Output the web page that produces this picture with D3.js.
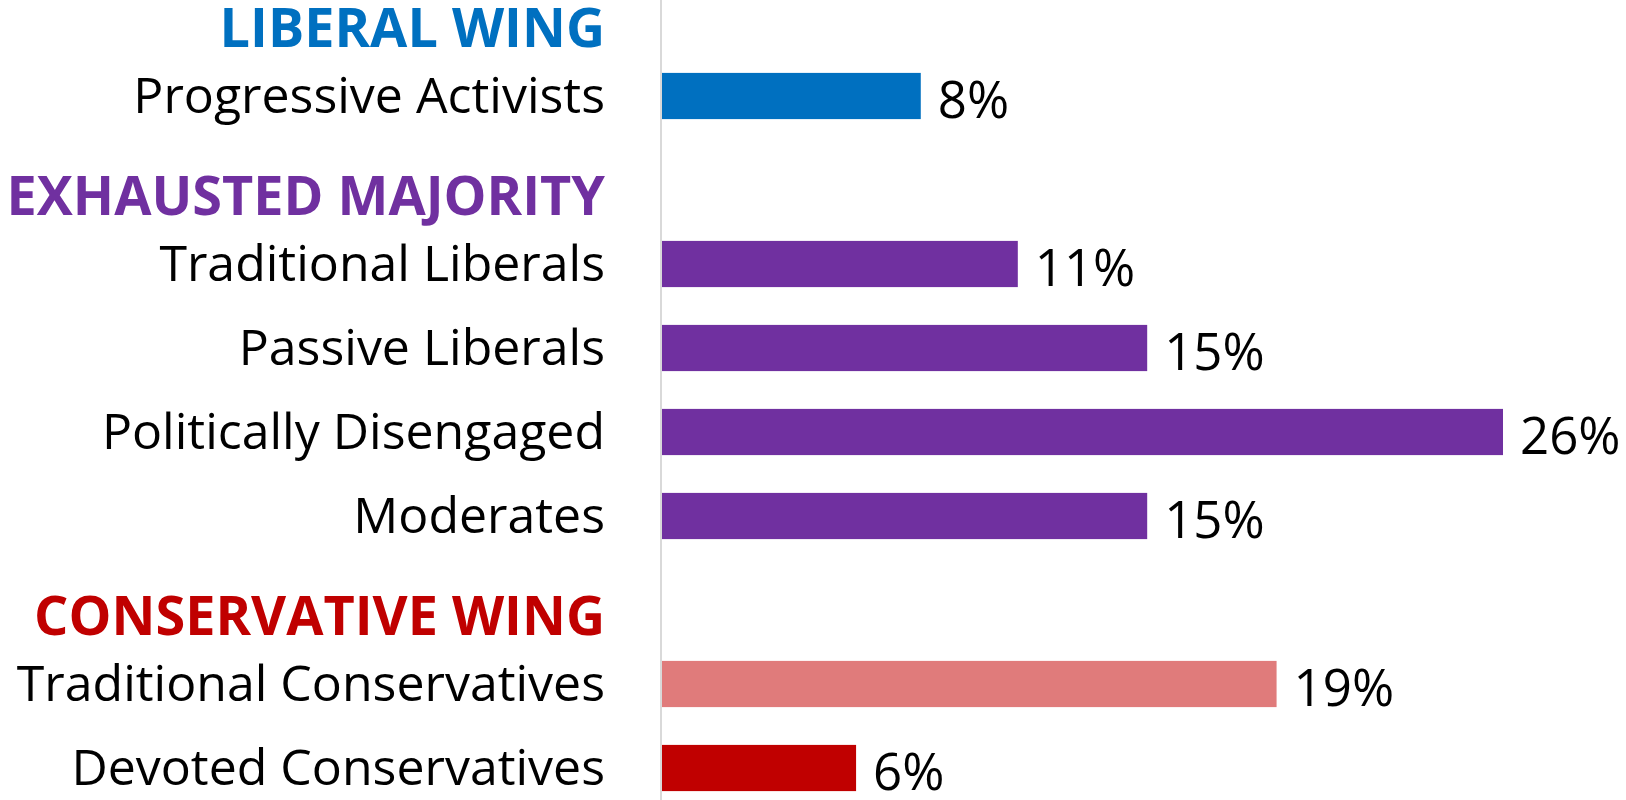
<!DOCTYPE html>
<html>
<head>
<meta charset="utf-8">
<script src="https://cdn.jsdelivr.net/npm/d3@7"></script>
<style>
  html, body { margin: 0; padding: 0; background: #fff; }
  text { font-family: "Open Sans", "Noto Sans", sans-serif; }
</style>
</head>
<body>
<div id="chart"></div>
<script>
var width = 1626, height = 800;

// rows from top to bottom; headings have no value
var rows = ["LIBERAL WING", "Progressive Activists", "EXHAUSTED MAJORITY",
    "Traditional Liberals", "Passive Liberals", "Politically Disengaged", "Moderates",
    "CONSERVATIVE WING", "Traditional Conservatives", "Devoted Conservatives"];
var headings = ["LIBERAL WING", "EXHAUSTED MAJORITY", "CONSERVATIVE WING"];
var headingColors = ["#0070C0", "#7030A0", "#C00000"];
var groups = ["Progressive Activists", "Traditional Liberals", "Passive Liberals",
    "Politically Disengaged", "Moderates", "Traditional Conservatives", "Devoted Conservatives"];
var values = [8, 11, 15, 26, 15, 19, 6];
var barColors = ["#0070C0", "#7030A0", "#7030A0", "#7030A0", "#7030A0", "#E07B7B", "#C00000"];

var axisX = 662;

var svg = d3.select("#chart").append("svg")
    .attr("width", width)
    .attr("height", height);

var y = d3.scaleBand()
    .domain(rows)
    .range([-30, 810])
    .paddingInner(0.45)
    .paddingOuter(0.225);

var x = d3.scaleLinear()
    .domain([0, 26])
    .range([axisX, 1503]);

// vertical axis line
svg.append("line")
    .attr("x1", axisX - 1).attr("x2", axisX - 1)
    .attr("y1", 0).attr("y2", height)
    .attr("stroke", "#d9d9d9")
    .attr("stroke-width", 2);

svg.selectAll(".heading")
    .data(headings)
    .enter().append("text")
    .attr("class", "heading")
    .attr("x", 605)
    .attr("y", function(d) { return y(d) + y.bandwidth() / 2 + 35; })
    .attr("text-anchor", "end")
    .attr("font-size", 54)
    .attr("font-weight", "bold")
    .attr("fill", function(d, i) { return headingColors[i]; })
    .text(function(d) { return d; });

svg.selectAll(".label")
    .data(groups)
    .enter().append("text")
    .attr("class", "label")
    .attr("x", 605)
    .attr("y", function(d) { return y(d) + y.bandwidth() / 2 + 17; })
    .attr("text-anchor", "end")
    .attr("font-size", 50)
    .attr("fill", "#000")
    .text(function(d) { return d; });

svg.selectAll(".bar")
    .data(groups)
    .enter().append("rect")
    .attr("class", "bar")
    .attr("x", x(0))
    .attr("y", function(d) { return y(d); })
    .attr("width", function(d, i) { return x(values[i]) - x(0); })
    .attr("height", y.bandwidth())
    .attr("fill", function(d, i) { return barColors[i]; });

svg.selectAll(".value")
    .data(groups)
    .enter().append("text")
    .attr("class", "value")
    .attr("x", function(d, i) { return x(values[i]) + 17; })
    .attr("y", function(d) { return y(d) + y.bandwidth() / 2 + 22; })
    .attr("font-size", 51)
    .attr("fill", "#000")
    .text(function(d, i) { return values[i] + "%"; });
</script>
</body>
</html>
